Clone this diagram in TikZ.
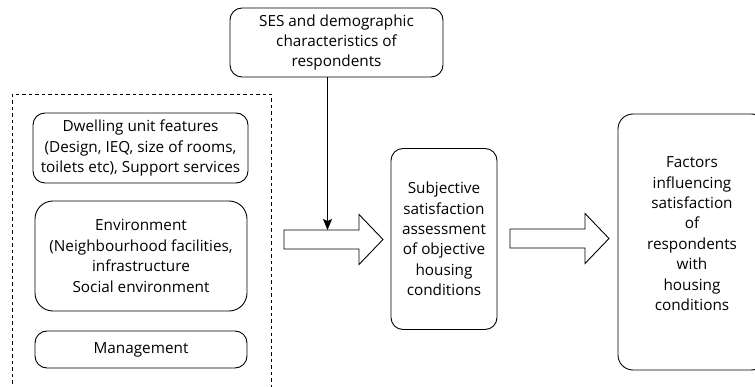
\documentclass[tikz,border=0pt]{standalone}
\usepackage{fontspec}
\setsansfont{Open Sans}
\usepackage{tikz}
\usetikzlibrary{arrows.meta}

\begin{document}
\begin{tikzpicture}[x=1pt,y=-1pt,line width=0.9pt,
    box/.style={draw,rounded corners=12pt,align=center,inner sep=0pt,
      font=\sffamily\fontsize{15.3}{20.4}\selectfont},
    hollow/.style={draw,line width=0.9pt,line join=miter}]
          \useasboundingbox (0,0) rectangle (755,387);
          \clip (0,0) rectangle (755,387);
          % grouping of the objective conditions
          \draw[dashed,dash pattern=on 3.5pt off 3pt,line width=0.8pt]
            (12.5,390) -- (12.5,94) -- (271,94) -- (271,390);
          \node[box,minimum width=215pt,minimum height=70pt] (dwell) at
            (140.5,148) {Dwelling unit features\\(Design, IEQ, size of rooms,\\toilets etc), Support services};
          \node[box,rounded corners=18pt,minimum width=212pt,minimum height=110pt]
            (envir) at (141,256) {Environment\\(Neighbourhood facilities,\\infrastructure\\Social environment};
          \node[box,minimum width=212pt,minimum height=37pt] (manag) at
            (141,349.5) {Management};
          % other boxes
          \node[box,minimum width=213pt,minimum height=69pt] (ses) at
            (336.5,42.5) {SES and demographic\\characteristics of\\respondents};
          \node[box,minimum width=106pt,minimum height=181pt] (subj) at
            (444,239) {Subjective\\satisfaction\\assessment\\of objective\\housing\\conditions};
          \node[box,rounded corners=15pt,minimum width=148pt,minimum height=256pt]
            (fact) at (692,242) {\raisebox{7pt}[\height][\depth]{%
              \begin{tabular}{@{}c@{}}Factors\\influencing\\satisfaction\\of\\respondents\\with\\housing\\conditions\end{tabular}}};
          % hollow arrows
          \coordinate (arrA) at (284,239.5);
          \coordinate (arrB) at (510,238.5);
          \foreach \p in {arrA,arrB}
            \draw[hollow] (\p) ++(0,-9.5) -- ++(75,0) -- ++(0,-15.5)
              -- ++(24,25) -- ++(-24,25) -- ++(0,-15.5) -- ++(-75,0) -- cycle;
          \coordinate (hit) at (327.5,230);
          \draw[-{Stealth[length=11pt,width=9pt,inset=2pt]}] (hit |- ses.south) -- (hit);
        \end{tikzpicture}
\end{document}
